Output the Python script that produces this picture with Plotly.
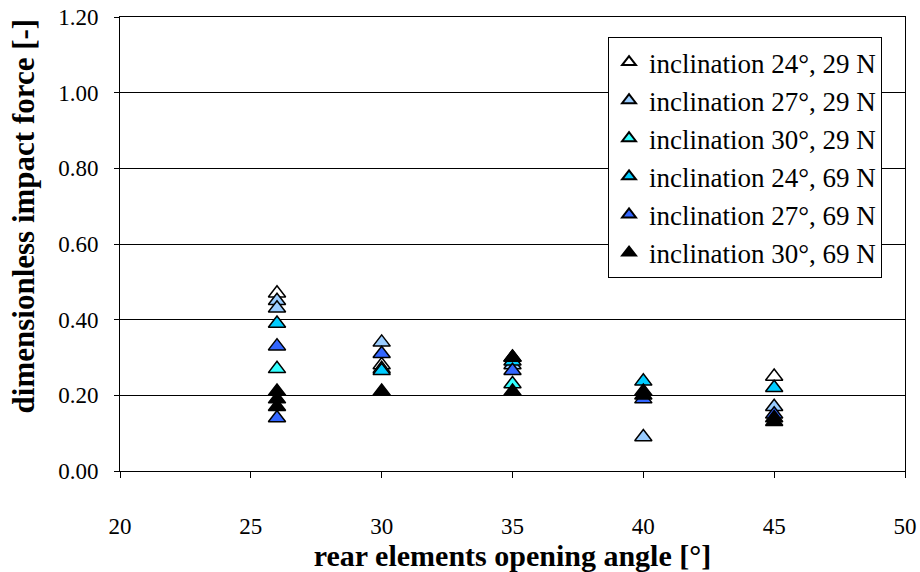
import plotly.graph_objects as go

# Opening angle of the rear elements [deg] and dimensionless impact force [-]
x_24_29 = [26, 30, 35, 45]
y_24_29 = [0.47, 0.28, 0.30, 0.25]

x_27_29 = [26, 26, 30, 35, 40, 45]
y_27_29 = [0.45, 0.43, 0.34, 0.28, 0.09, 0.17]

x_30_29 = [26, 30, 35]
y_30_29 = [0.27, 0.27, 0.23]

x_24_69 = [26, 30, 35, 40, 45]
y_24_69 = [0.39, 0.265, 0.29, 0.237, 0.22]

x_27_69 = [26, 26, 30, 35, 40, 45]
y_27_69 = [0.33, 0.14, 0.31, 0.265, 0.19, 0.15]

x_30_69 = [26, 26, 26, 30, 35, 35, 40, 40, 45, 45]
y_30_69 = [0.21, 0.19, 0.17, 0.21, 0.30, 0.21, 0.21, 0.20, 0.14, 0.13]

series_names = [
    "inclination 24°, 29 N",
    "inclination 27°, 29 N",
    "inclination 30°, 29 N",
    "inclination 24°, 69 N",
    "inclination 27°, 69 N",
    "inclination 30°, 69 N",
]
series_colors = ["#FFFFFF", "#99CCFF", "#33FFFF", "#00CCFF", "#3366FF", "#000000"]

x_ticks = [20, 25, 30, 35, 40, 45, 50]
y_ticks = [0.0, 0.2, 0.4, 0.6, 0.8, 1.0, 1.2]

FONT = "'Liberation Serif', 'DejaVu Serif', serif"

fig = go.Figure()
all_x = [x_24_29, x_27_29, x_30_29, x_24_69, x_27_69, x_30_69]
all_y = [y_24_29, y_27_29, y_30_29, y_24_69, y_27_69, y_30_69]
for i, (xs, ys, name, col) in enumerate(zip(all_x, all_y, series_names, series_colors)):
    fig.add_trace(go.Scatter(
        x=xs, y=ys, mode="markers", name=name, legendgroup=f"g{i}",
        marker=dict(symbol="triangle-up", size=15, color=col,
                    line=dict(color="#000000", width=1.5)),
    ))

# vertical axis title, set slightly above the middle of the plot area
fig.add_annotation(
    text="<b>dimensionless impact force [-]</b>", textangle=-90,
    xref="paper", yref="paper", x=-0.1217, y=0.5617,
    xanchor="center", yanchor="middle", showarrow=False,
    font=dict(family=FONT, size=31, color="#000000"),
)

fig.update_layout(
    width=920, height=572,
    margin=dict(l=120, r=15, t=17, b=101),
    paper_bgcolor="white", plot_bgcolor="white",
    font=dict(family=FONT, color="#000000", size=23),
    showlegend=True,
    legend=dict(
        x=0.6217, y=0.956, xanchor="left", yanchor="top",
        bgcolor="white", bordercolor="#000000", borderwidth=1,
        font=dict(family=FONT, size=27, color="#000000"),
        tracegroupgap=0, itemsizing="constant",
    ),
    xaxis=dict(
        range=[20, 50], tickvals=x_ticks, ticktext=[str(v) for v in x_ticks],
        showgrid=False, zeroline=False, automargin=False,
        showline=True, linecolor="#000000", linewidth=1, mirror=True,
        ticks="outside", ticklen=6, tickcolor="#000000",
        ticklabelstandoff=28,
        tickfont=dict(family=FONT, size=23),
        title=dict(text="<b>rear elements opening angle [°]</b>",
                   font=dict(family=FONT, size=30), standoff=6),
    ),
    yaxis=dict(
        range=[0, 1.2], tickvals=y_ticks, ticktext=[f"{v:.2f}" for v in y_ticks],
        showgrid=True, gridcolor="#000000", gridwidth=0.7, zeroline=False,
        automargin=False,
        showline=True, linecolor="#000000", linewidth=1, mirror=True,
        ticks="outside", ticklen=5, tickcolor="#000000",
        ticklabelstandoff=11,
        tickfont=dict(family=FONT, size=23),
    ),
)

fig.write_html("out.html")
